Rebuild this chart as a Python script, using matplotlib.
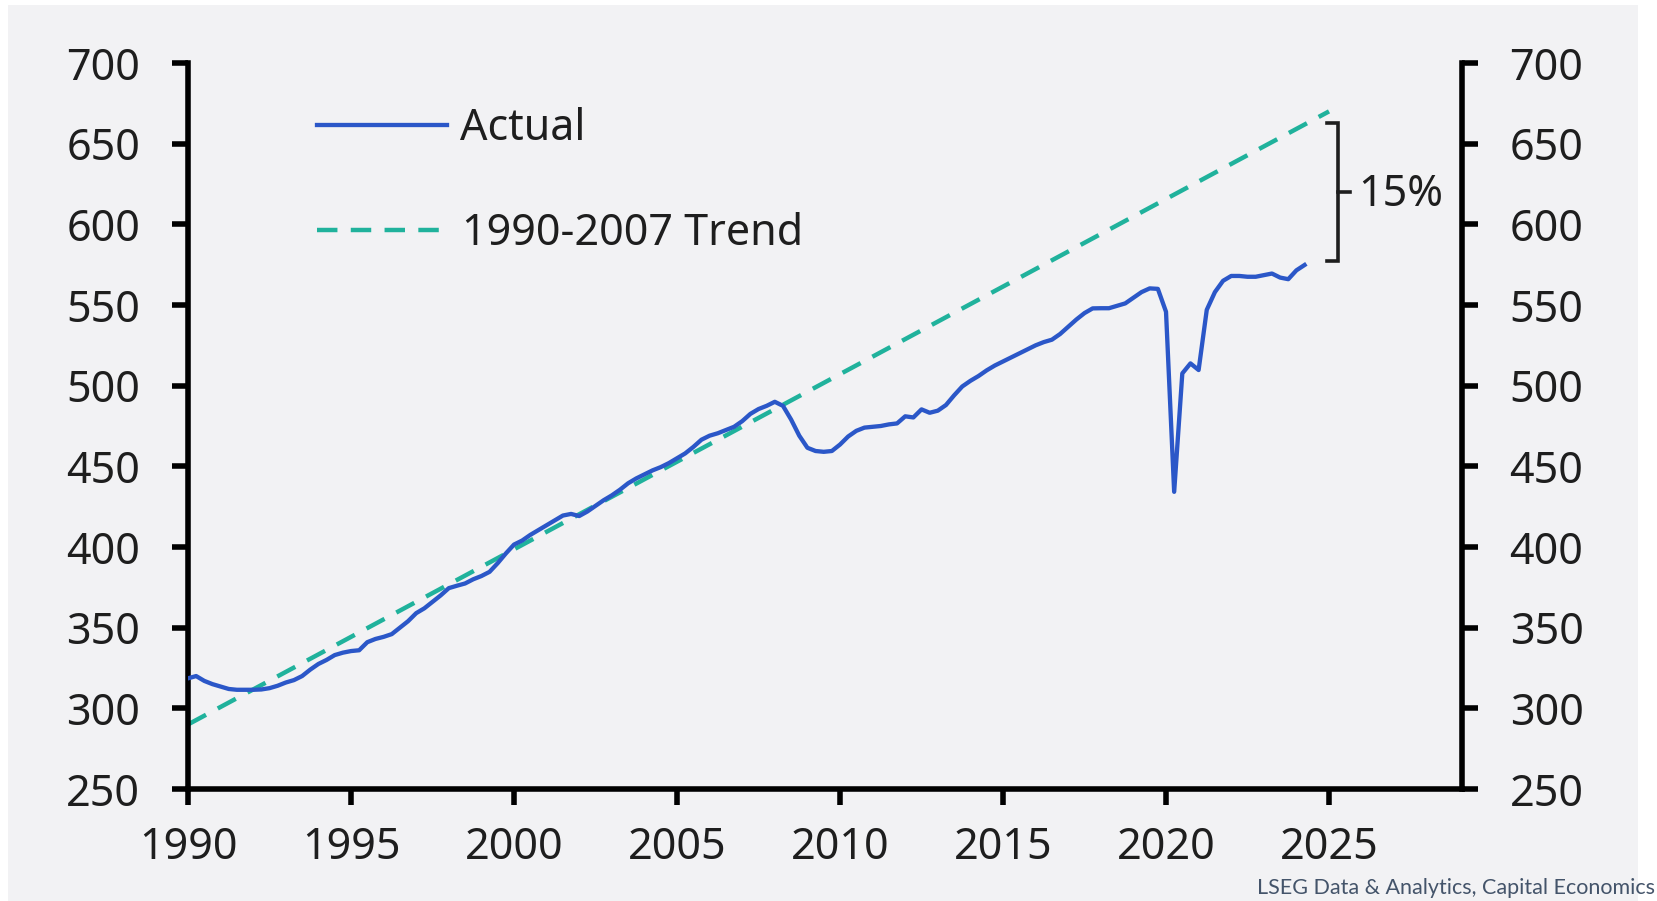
import matplotlib
matplotlib.use("Agg")
import matplotlib.pyplot as plt
from matplotlib.patches import Rectangle
from matplotlib.transforms import offset_copy

# Quarterly output index, 1990 Q1 to 2024 Q2
actual_years = [
    1990.00, 1990.25, 1990.50, 1990.75, 1991.00, 1991.25, 1991.50, 1991.75,
    1992.00, 1992.25, 1992.50, 1992.75, 1993.00, 1993.25, 1993.50, 1993.75,
    1994.00, 1994.25, 1994.50, 1994.75, 1995.00, 1995.25, 1995.50, 1995.75,
    1996.00, 1996.25, 1996.50, 1996.75, 1997.00, 1997.25, 1997.50, 1997.75,
    1998.00, 1998.25, 1998.50, 1998.75, 1999.00, 1999.25, 1999.50, 1999.75,
    2000.00, 2000.25, 2000.50, 2000.75, 2001.00, 2001.25, 2001.50, 2001.75,
    2002.00, 2002.25, 2002.50, 2002.75, 2003.00, 2003.25, 2003.50, 2003.75,
    2004.00, 2004.25, 2004.50, 2004.75, 2005.00, 2005.25, 2005.50, 2005.75,
    2006.00, 2006.25, 2006.50, 2006.75, 2007.00, 2007.25, 2007.50, 2007.75,
    2008.00, 2008.25, 2008.50, 2008.75, 2009.00, 2009.25, 2009.50, 2009.75,
    2010.00, 2010.25, 2010.50, 2010.75, 2011.00, 2011.25, 2011.50, 2011.75,
    2012.00, 2012.25, 2012.50, 2012.75, 2013.00, 2013.25, 2013.50, 2013.75,
    2014.00, 2014.25, 2014.50, 2014.75, 2015.00, 2015.25, 2015.50, 2015.75,
    2016.00, 2016.25, 2016.50, 2016.75, 2017.00, 2017.25, 2017.50, 2017.75,
    2018.00, 2018.25, 2018.50, 2018.75, 2019.00, 2019.25, 2019.50, 2019.75,
    2020.00, 2020.25, 2020.50, 2020.75, 2021.00, 2021.25, 2021.50, 2021.75,
    2022.00, 2022.25, 2022.50, 2022.75, 2023.00, 2023.25, 2023.50, 2023.75,
    2024.00, 2024.25,
]
actual_values = [
    318.6, 320.0, 317.0, 315.0, 313.5, 312.0, 311.5, 311.5,
    311.5, 311.7, 312.5, 314.0, 316.0, 317.5, 320.0, 324.0,
    327.5, 330.0, 333.0, 334.5, 335.5, 336.0, 341.0, 343.0,
    344.3, 346.0, 350.0, 354.0, 359.0, 362.0, 366.0, 370.0,
    374.5, 376.0, 377.4, 380.0, 382.0, 384.6, 390.0, 396.0,
    401.5, 404.0, 407.5, 410.5, 413.5, 416.5, 419.5, 420.5,
    419.2, 422.0, 425.5, 429.0, 432.0, 435.5, 439.5, 442.5,
    445.0, 447.5, 449.5, 452.0, 455.0, 458.0, 462.0, 466.5,
    469.0, 470.5, 472.5, 474.5, 478.0, 482.5, 485.5, 487.5,
    490.0, 487.5, 479.0, 469.0, 461.5, 459.5, 459.0, 459.5,
    463.5, 468.5, 472.0, 474.0, 474.5, 475.0, 476.0, 476.6,
    481.0, 480.3, 485.3, 483.2, 484.5, 488.0, 494.0, 499.5,
    503.0, 506.0, 509.5, 512.5, 515.0, 517.5, 520.0, 522.5,
    525.0, 527.0, 528.5, 532.0, 536.5, 541.0, 545.0, 547.9,
    548.0, 548.0, 549.5, 551.0, 554.5, 558.0, 560.3, 560.0,
    545.8, 434.2, 507.6, 513.8, 509.7, 547.0, 558.0, 565.0,
    568.0, 568.0, 567.5, 567.5, 568.5, 569.5, 567.0, 566.0,
    571.5, 574.8,
]

# 1990-2007 trend extended to 2025
trend_years = [1990, 2025]
trend_values = [290, 670]

# Gap bracket between trend and latest output
bracket_bottom = 577
bracket_top = 663
gap_label = f"{(bracket_top / bracket_bottom - 1) * 100:.0f}%"

x_ticks = [1990, 1995, 2000, 2005, 2010, 2015, 2020, 2025]
y_ticks = [250, 300, 350, 400, 450, 500, 550, 600, 650, 700]

series_labels = ["Actual", "1990-2007 Trend"]
source_text = "LSEG Data & Analytics, Capital Economics"

BLUE = "#2b57c8"
TEAL = "#20b29c"
INK = "#1e1e1e"
PANEL = "#f2f2f4"
FONT = ["Noto Sans", "DejaVu Sans"]
FS = 31

plt.rcParams["font.family"] = FONT

W, H = 1657, 901
fig = plt.figure(figsize=(W / 100, H / 100), dpi=100, facecolor="white")

# light grey panel behind the chart
fig.patches.append(Rectangle((8 / W, 0), (1638 - 8) / W, (H - 5) / H,
                             transform=fig.transFigure, facecolor=PANEL,
                             edgecolor="none", zorder=-10))

ax_left, ax_right = 188 / W, 1461.7 / W
ax_top, ax_bottom = (H - 63) / H, (H - 789) / H
ax = fig.add_axes([ax_left, ax_bottom, ax_right - ax_left, ax_top - ax_bottom])
ax.set_zorder(1)
ax.patch.set_alpha(0)

ax.set_xlim(1990, 2029.07)
ax.set_ylim(250, 700)
ax.set_xticks(x_ticks)
ax.set_yticks(y_ticks)

ax.plot(trend_years, trend_values, color=TEAL, lw=3.2, dashes=(4.6, 3.0),
        zorder=2)
ax.plot(actual_years, actual_values, color=BLUE, lw=3.1,
        solid_joinstyle="round", zorder=3)

# bracket showing the shortfall from trend
bx, hook, tick = 2025.28, 2024.94, 2025.64
ax.plot([hook, bx, bx, hook], [bracket_top, bracket_top, bracket_bottom, bracket_bottom],
        color=INK, lw=2.6, solid_joinstyle="miter", zorder=3)
mid = (bracket_top + bracket_bottom) / 2
ax.plot([bx, tick], [mid, mid], color=INK, lw=2.6, zorder=3)
ax.text(2025.9, mid - 2, gap_label, fontsize=FS, color=INK, ha="left",
        va="center")

# spines and ticks
for side in ("left", "right", "bottom"):
    ax.spines[side].set_linewidth(4)
    ax.spines[side].set_color("black")
ax.spines["top"].set_visible(False)
ax.tick_params(axis="y", which="both", left=True, right=True, labelleft=True,
               labelright=True, direction="out", length=11.5, width=4,
               pad=23, labelsize=FS, labelcolor=INK, color="black")
ax.tick_params(axis="x", direction="out", length=11.5, width=4, pad=15,
               labelsize=FS, labelcolor=INK, color="black")

# legend
text_shift = offset_copy(ax.transAxes, fig=fig, x=0, y=-4, units="dots")
ax.plot([0.1013, 0.2033], [0.915, 0.915], transform=ax.transAxes,
        color=BLUE, lw=3.1, clip_on=False)
ax.text(0.2136, 0.915, series_labels[0], transform=text_shift,
        fontsize=FS, color=INK, ha="left", va="center")
ax.plot([0.1013, 0.2033], [0.770, 0.770], transform=ax.transAxes,
        color=TEAL, lw=3.2, dashes=(4.6, 3.0), clip_on=False)
ax.text(0.2150, 0.770, series_labels[1], transform=text_shift,
        fontsize=FS, color=INK, ha="left", va="center")

fig.text(1257 / W, 7.5 / H, source_text, fontsize=15.5, color="#44546a",
         family=["Lato", "DejaVu Sans"], ha="left", va="baseline")

fig.savefig("out.png", dpi=100, facecolor="white")
